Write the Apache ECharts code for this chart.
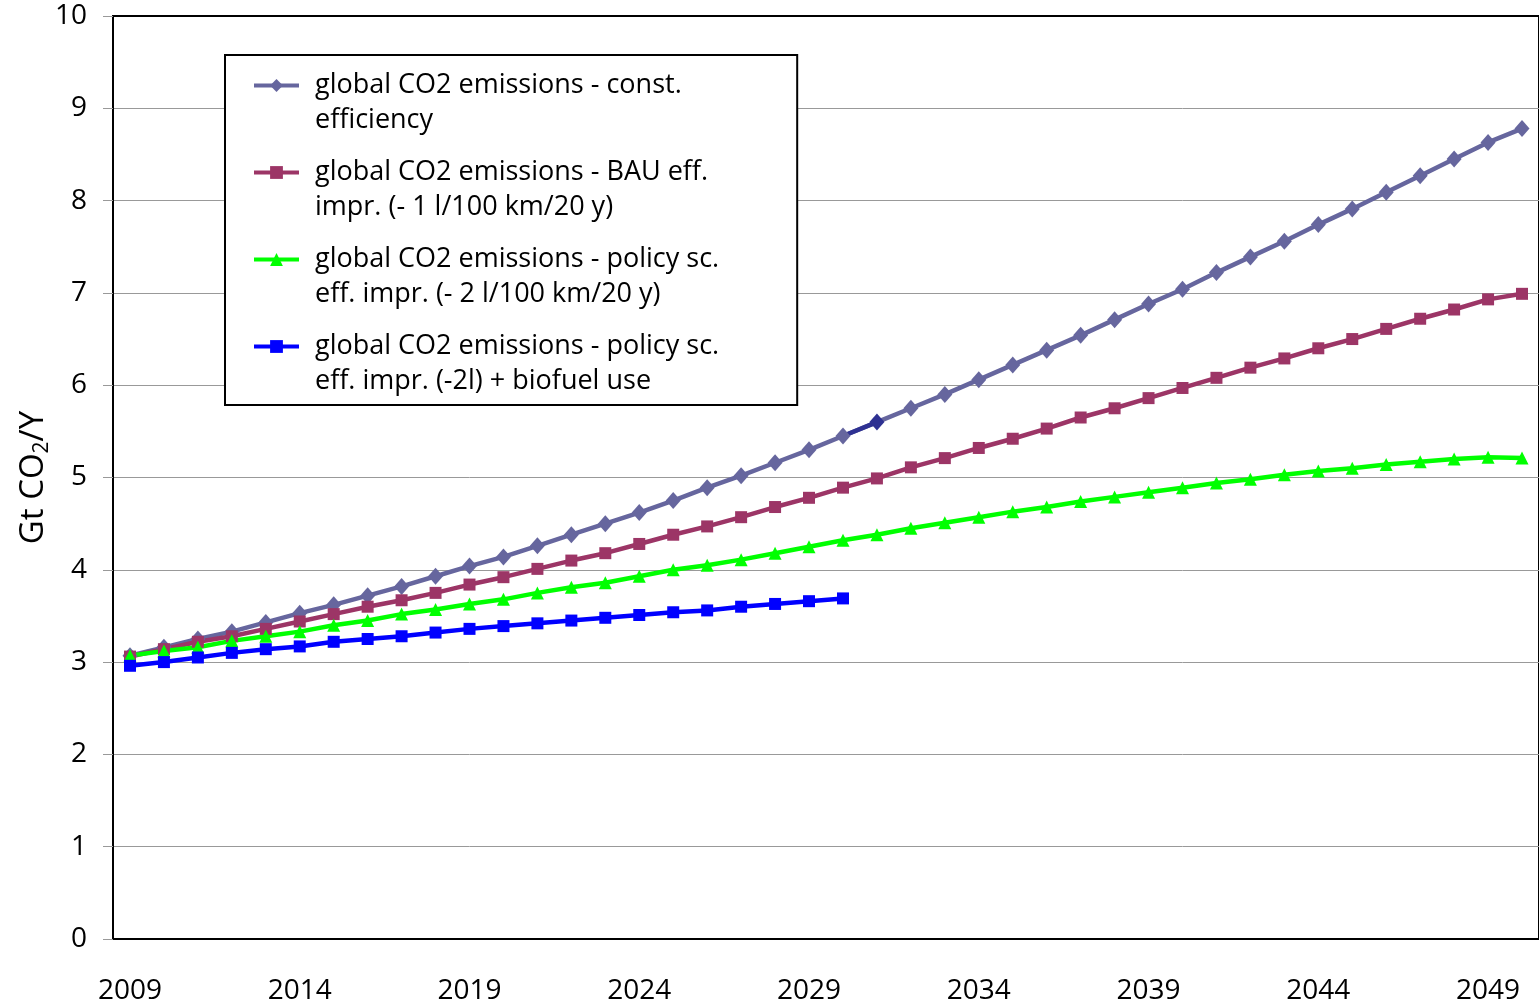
<!DOCTYPE html>
<html>
<head>
<meta charset="utf-8">
<title>Global CO2 emissions</title>
<script src="https://cdn.jsdelivr.net/npm/echarts@6/dist/echarts.min.js"></script>
<style>
  html, body { margin: 0; padding: 0; background: #fff; }
  #chart { width: 1539px; height: 1007px; }
</style>
</head>
<body>
<div id="chart"></div>
<script>
  // years 2009 .. 2050
  var years = []
  for (var y = 2009; y <= 2050; y++) years.push(String(y))

  // Gt CO2 / year
  var constEff = [3.07, 3.16, 3.25, 3.33, 3.43, 3.53, 3.62, 3.72, 3.82, 3.93,
    4.04, 4.14, 4.26, 4.38, 4.50, 4.62, 4.75, 4.89, 5.02, 5.16,
    5.30, 5.45, 5.60, 5.75, 5.90, 6.06, 6.22, 6.38, 6.54, 6.71,
    6.88, 7.04, 7.22, 7.39, 7.56, 7.74, 7.91, 8.09, 8.27, 8.45,
    8.63, 8.78]
  var bauEff = [3.06, 3.14, 3.22, 3.28, 3.36, 3.44, 3.52, 3.60, 3.67, 3.75,
    3.84, 3.92, 4.01, 4.10, 4.18, 4.28, 4.38, 4.47, 4.57, 4.68,
    4.78, 4.89, 4.99, 5.11, 5.21, 5.32, 5.42, 5.53, 5.65, 5.75,
    5.86, 5.97, 6.08, 6.19, 6.29, 6.40, 6.50, 6.61, 6.72, 6.82,
    6.93, 6.99]
  var policyEff = [3.07, 3.12, 3.16, 3.23, 3.28, 3.33, 3.40, 3.45, 3.52, 3.57,
    3.63, 3.68, 3.75, 3.81, 3.86, 3.93, 4.00, 4.05, 4.11, 4.18,
    4.25, 4.32, 4.38, 4.45, 4.51, 4.57, 4.63, 4.68, 4.74, 4.79,
    4.84, 4.89, 4.94, 4.98, 5.03, 5.07, 5.10, 5.14, 5.17, 5.20,
    5.22, 5.21]
  // biofuel scenario only runs to 2030
  var biofuel = [2.96, 3.00, 3.05, 3.10, 3.14, 3.17, 3.22, 3.25, 3.28, 3.32,
    3.36, 3.39, 3.42, 3.45, 3.48, 3.51, 3.54, 3.56, 3.60, 3.63,
    3.66, 3.69]

  var seriesNames = [
    'global CO2 emissions - const.\nefficiency',
    'global CO2 emissions - BAU eff.\nimpr. (- 1 l/100 km/20 y)',
    'global CO2 emissions - policy sc.\neff. impr. (- 2 l/100 km/20 y)',
    'global CO2 emissions - policy sc.\neff. impr. (-2l) + biofuel use'
  ]

  // the 2031 point of the const. efficiency line is drawn darker in the original
  var darkYear = '2031'
  var darkIdx = years.indexOf(darkYear)

  var font = 'Open Sans'
  var chart = echarts.init(document.getElementById('chart'))

  var constData = constEff.map(function (v, i) {
    return i === darkIdx ? { value: v, itemStyle: { color: '#2E3192' } } : v
  })
  var darkSeg = constEff.map(function (v, i) {
    return (i === darkIdx || i === darkIdx - 1) ? v : '-'
  })

  chart.setOption({
    animation: false,
    textStyle: { fontFamily: font },
    grid: {
      left: 113,
      right: -13,
      top: 16,
      bottom: 68,
      show: true,
      borderColor: '#000',
      borderWidth: 2
    },
    legend: {
      orient: 'vertical',
      left: 225,
      top: 55,
      itemWidth: 45,
      itemHeight: 16,
      itemGap: -18,
      padding: [-22, 78, 6, 27],
      borderColor: '#000',
      borderWidth: 2,
      backgroundColor: '#fff',
      lineStyle: { width: 4 },
      // a blank first line keeps the icon level with the first text line
      formatter: function (name) { return ' \n' + name },
      textStyle: {
        fontFamily: font,
        fontSize: 27,
        color: '#000',
        lineHeight: 35,
        padding: [0, 0, 0, 11]
      },
      data: seriesNames
    },
    xAxis: {
      type: 'category',
      data: years,
      boundaryGap: true,
      axisLine: { lineStyle: { color: '#000', width: 2 } },
      axisTick: { interval: 0, length: 10, lineStyle: { color: '#999' } },
      axisLabel: { interval: 4, fontSize: 28, color: '#000', margin: 38, fontFamily: font },
      splitLine: { show: false }
    },
    yAxis: {
      type: 'value',
      min: 0,
      max: 10,
      interval: 1,
      name: '{a|Gt CO}{s|2}{a|/Y}',
      nameLocation: 'middle',
      nameGap: 60,
      nameMoveOverlap: false,
      nameTextStyle: {
        rich: {
          a: { fontSize: 33, color: '#000', fontFamily: font, lineHeight: 38 },
          s: { fontSize: 21, color: '#000', fontFamily: font, lineHeight: 38, verticalAlign: 'bottom', padding: [13, 0, 0, 0] }
        }
      },
      axisLine: { show: true, lineStyle: { color: '#000', width: 2 } },
      axisTick: { show: true, length: 10, lineStyle: { color: '#999' } },
      axisLabel: { fontSize: 28, color: '#000', margin: 26, fontFamily: font },
      splitLine: { showMaxLine: false, lineStyle: { color: '#999', width: 1 } }
    },
    series: [{
      name: seriesNames[0],
      type: 'line',
      data: constData,
      symbol: 'diamond',
      symbolSize: [15, 17],
      lineStyle: { width: 4.5, color: '#66669E' },
      itemStyle: { color: '#66669E' }
    }, {
      name: 'dark segment',
      type: 'line',
      data: darkSeg,
      showSymbol: false,
      lineStyle: { width: 4.5, color: '#2E3192' },
      itemStyle: { color: '#2E3192' }
    }, {
      name: seriesNames[1],
      type: 'line',
      data: bauEff,
      symbol: 'rect',
      symbolSize: 12,
      lineStyle: { width: 4.5, color: '#9C3566' },
      itemStyle: { color: '#9C3566' }
    }, {
      name: seriesNames[2],
      type: 'line',
      data: policyEff,
      symbol: 'triangle',
      symbolSize: 13,
      lineStyle: { width: 4.5, color: '#00FF00' },
      itemStyle: { color: '#00FF00' }
    }, {
      name: seriesNames[3],
      type: 'line',
      data: biofuel,
      symbol: 'rect',
      symbolSize: 12,
      lineStyle: { width: 4.5, color: '#0000FF' },
      itemStyle: { color: '#0000FF' }
    }]
  })
</script>
</body>
</html>
